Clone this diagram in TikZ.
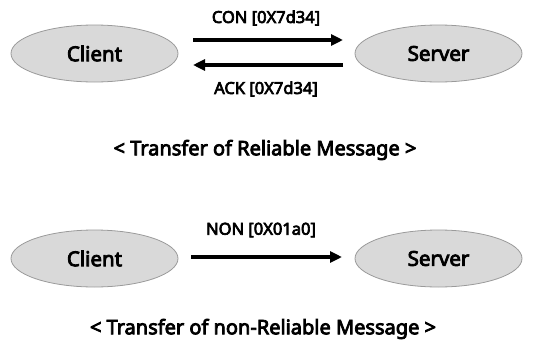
\documentclass[tikz,border=0pt]{standalone}
\usepackage{fontspec}
\setmainfont{Noto Sans}[AutoFakeBold=4]
\usetikzlibrary{shapes.geometric,arrows.meta}
\definecolor{ellfill}{HTML}{D9D9D9}
\definecolor{ellline}{HTML}{9A9A9A}
\begin{document}
\begin{tikzpicture}[x=1pt,y=-1pt,
  ell/.style={ellipse,draw=ellline,fill=ellfill,line width=0.8pt,minimum width=167pt,minimum height=57pt,inner sep=0pt,font=\fontsize{20.5}{22}\selectfont\bfseries},
  lbl/.style={font=\fontsize{16.5}{17}\selectfont\bfseries,inner sep=0pt},
  captxt/.style={font=\fontsize{20}{21}\selectfont\bfseries,inner sep=0pt},
  msg/.style={line width=3.5pt,-{Triangle[length=12pt,width=11pt]}}]
\useasboundingbox (0,0) rectangle (540,340);
% top
\node[ell] (c1) at (94.5,53.5) {Client};
\node[ell] (s1) at (438.5,53.5) {Server};
\coordinate (a1s) at (193,40);
\coordinate (a1e) at (343,40);
\coordinate (a2s) at (343,65);
\coordinate (a2e) at (193,65);
\draw[msg] (a1s) -- (a1e);
\draw[msg] (a2s) -- (a2e);
\node[lbl] (con) at (266,18) {CON [0X7d34]};
\node[lbl] (ack) at (266,89) {ACK [0X7d34]};
\node[captxt] (t1) at (265,150) {< Transfer of Reliable Message >};
% bottom
\node[ell] (c2) at (94.5,258.5) {Client};
\node[ell] (s2) at (438.5,258.5) {Server};
\coordinate (a3s) at (191,257);
\coordinate (a3e) at (342,257);
\draw[msg] (a3s) -- (a3e);
\node[lbl] (non) at (261,230) {NON [0X01a0]};
\node[captxt] (t2) at (263,329) {< Transfer of non-Reliable Message >};
\end{tikzpicture}
\end{document}
